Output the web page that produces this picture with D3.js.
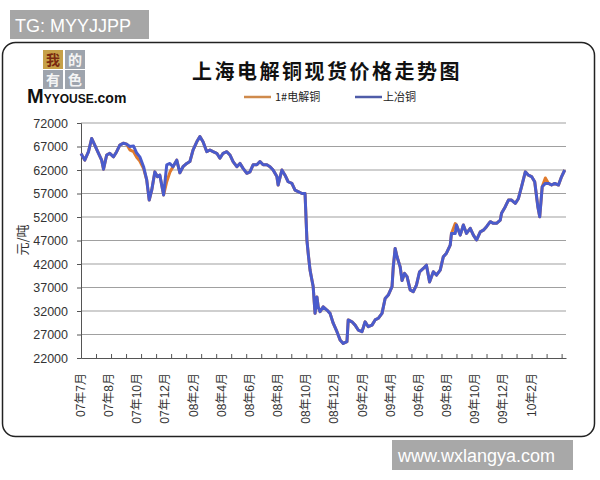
<!DOCTYPE html>
<html><head><meta charset="utf-8">
<script src="https://cdn.jsdelivr.net/npm/d3@7/dist/d3.min.js"></script>
<style>
html,body{margin:0;padding:0;background:#fff;}
svg{display:block;}
</style></head>
<body>
<svg id="chart" width="600" height="480"></svg>
<script>
// ---- data ----
const chartTitle = "上海电解铜现货价格走势图";
const seriesNames = ["1#电解铜", "上冶铜"];
const yTickValues = [22000, 27000, 32000, 37000, 42000, 47000, 52000, 57000, 62000, 67000, 72000];
const xTickLabels = ["07年7月","07年8月","07年10月","07年12月","08年2月","08年4月","08年6月","08年8月","08年10月","08年12月","09年2月","09年4月","09年6月","09年8月","09年10月","09年12月","10年2月"];
const totalDays = 775;   // trading-day index range of the category axis
const labelEvery = 45;   // trading days between category labels
const tickEvery = 24;    // trading days between tick marks

const tradingDay = [0,6,12,17,22,28,33,36,41,46,52,57,62,68,73,78,84,89,94,100,105,109,113,118,122,126,132,137,142,147,153,158,163,169,174,179,185,190,195,201,206,211,217,222,227,233,238,243,249,254,259,265,270,275,281,286,291,297,302,307,313,315,321,326,331,337,342,347,353,358,361,363,366,369,371,374,377,379,382,387,393,398,403,409,414,419,425,427,433,438,443,449,454,459,465,470,475,481,486,491,497,499,502,505,510,513,517,521,526,531,536,541,547,552,557,563,568,574,579,584,590,592,598,600,606,611,616,622,627,632,638,643,648,654,659,664,670,672,678,683,688,694,699,704,710,715,720,725,730,733,737,742,747,752,757,763,768,773];

const shangyeCopper = [65500,64100,65900,68700,67300,65550,64100,62150,65200,65550,64800,65900,67300,67700,67500,67000,67100,65600,64800,62700,59900,55600,57700,61600,60600,60900,56700,63100,63400,62700,64100,61400,62700,63400,63800,66250,68000,69100,68000,65900,66250,65900,65550,64500,65550,65900,65200,63800,62700,63400,62350,61300,61600,63100,63100,63800,63100,63100,62700,62000,60600,58800,62000,60900,59500,59150,57700,57400,57000,57000,47100,44300,40700,38600,37200,31500,35000,32900,31850,32900,32200,31500,29400,27600,25850,25100,25500,30100,29700,29000,27950,27600,29700,28650,29000,30100,30450,31500,34650,35400,37200,41400,45300,43550,41400,38500,40000,39300,36500,36100,37500,40350,41050,41750,38200,40350,39650,40700,43550,44300,46000,48500,48500,50300,48150,50300,48500,49600,48150,47100,48850,49200,49950,51000,50650,50650,51350,52800,54200,55600,55600,54900,55950,58450,61600,60900,60600,59500,54200,52050,58450,59150,59150,58800,59150,58800,60600,62000];

const cathodeCopper = [65500,64100,65900,68700,67300,65550,64100,62150,65200,65550,64800,65900,67300,67700,67500,66300,65900,64700,63900,62300,59900,55600,57700,61600,60600,60900,56700,59500,61500,62700,64100,61400,62700,63400,63800,66250,68000,69100,68000,65900,66250,65900,65550,64500,65550,65900,65200,63800,62700,63400,62350,61300,61600,63100,63100,63800,63100,63100,62700,62000,60600,58800,62000,60900,59500,59150,57700,57400,57000,57000,47100,44300,40700,38600,37200,31500,35000,32900,31850,32900,32200,31500,29400,27600,25850,25100,25500,30100,29700,29000,27950,27600,29700,28650,29000,30100,30450,31500,34650,35400,37200,41400,45300,43550,41400,38500,40000,39300,36500,36100,37500,40350,41050,41750,38200,40350,39650,40700,43550,44300,46000,48500,50600,50300,48150,50300,48500,49600,48150,47100,48850,49200,49950,51000,50650,50650,51350,52800,54200,55600,55600,54900,55950,58450,61600,60900,60600,59500,54200,52050,58450,60300,59150,58800,59150,58800,60600,62000];

// ---- drawing ----
const svg = d3.select("#chart");
const latin = "'Liberation Sans', Arial, 'Noto Sans CJK SC', sans-serif";
const cjk = "'Noto Sans CJK SC', 'Liberation Sans', sans-serif";

// top-left tag
svg.append("rect").attr("x",10).attr("y",10).attr("width",139).attr("height",29).attr("fill","#a6a6a6");
svg.append("text").attr("x",15).attr("y",32).attr("fill","#fff").attr("font-family",latin).attr("font-size",18).text("TG: MYYJJPP");

// frame
svg.append("rect").attr("x",2.5).attr("y",42.5).attr("width",592).attr("height",394).attr("rx",13)
  .attr("fill","none").attr("stroke","#222").attr("stroke-width",1.5);

// bottom-right watermark
svg.append("rect").attr("x",392).attr("y",440).attr("width",181).attr("height",30).attr("fill","#a8a8a8");
svg.append("text").attr("x",398).attr("y",462).attr("fill","#fff").attr("font-family",latin).attr("font-size",18).text("www.wxlangya.com");

// logo
const logoCells = [
  {ch:"我", x:43, y:50, bg:"#c6a048", fg:"#7a2a10"},
  {ch:"的", x:65, y:50, bg:"#9ea4ad", fg:"#f4f4f4"},
  {ch:"有", x:43, y:70, bg:"#9ea4ad", fg:"#f4f4f4"},
  {ch:"色", x:65, y:70, bg:"#9ea4ad", fg:"#f4f4f4"}
];
const logo = svg.append("g");
logo.selectAll("rect").data(logoCells).join("rect")
  .attr("x",d=>d.x).attr("y",d=>d.y).attr("width",20).attr("height",19).attr("fill",d=>d.bg);
logo.selectAll("text").data(logoCells).join("text")
  .attr("x",d=>d.x+10).attr("y",d=>d.y+15).attr("text-anchor","middle")
  .attr("fill",d=>d.fg).attr("font-family",cjk).attr("font-weight","bold").attr("font-size",14).text(d=>d.ch);
const brand = svg.append("text").attr("x",27).attr("y",103).attr("font-family",latin).attr("font-weight","bold").attr("fill","#111");
brand.append("tspan").attr("font-size",20).text("M");
brand.append("tspan").attr("font-size",12).text("YYOUSE");
brand.append("tspan").attr("font-size",14).text(".com");

// title
svg.append("text").attr("x",327).attr("y",79).attr("text-anchor","middle")
  .attr("font-family",cjk).attr("font-weight","bold").attr("font-size",20).attr("letter-spacing",2.5)
  .attr("fill","#111").text(chartTitle);

// plot area
const plotL = 81, plotR = 566, plotT = 123, plotB = 358;
const x = d3.scaleLinear().domain([0, totalDays]).range([plotL, plotR]);
const y = d3.scaleLinear().domain([22000, 72000]).range([plotB, plotT]);

const colors = ["#e07a2c", "#4a5bcc"];

// gridlines
svg.append("g").selectAll("line").data(yTickValues.filter(v=>v>22000)).join("line")
  .attr("x1",plotL).attr("x2",plotR).attr("y1",d=>y(d)).attr("y2",d=>y(d))
  .attr("stroke","#a0a0a0").attr("stroke-width",1.2);

// y axis
const yAxis = svg.append("g").attr("transform",`translate(${plotL},0)`)
  .call(d3.axisLeft(y).tickValues(yTickValues).tickFormat(d3.format("d")).tickSize(4).tickPadding(9));
yAxis.select(".domain").attr("stroke","#555");
yAxis.selectAll(".tick line").attr("stroke","#555");
yAxis.selectAll("text").attr("font-family",latin).attr("font-size",12.5).attr("fill","#333");

// x axis (category ticks inward)
const tickDays = d3.range(0, totalDays + 1, tickEvery);
const xAxis = svg.append("g").attr("transform",`translate(0,${plotB})`)
  .call(d3.axisBottom(x).tickValues(tickDays).tickSize(-4).tickSizeOuter(0).tickFormat(""));
xAxis.select(".domain").attr("stroke","#555");
xAxis.selectAll(".tick line").attr("stroke","#555");

// rotated category labels
svg.append("g").selectAll("text").data(xTickLabels).join("text")
  .attr("transform",(d,i)=>`translate(${x(i*labelEvery)+4},373) rotate(-90)`)
  .attr("text-anchor","end").attr("font-family",latin).attr("font-size",12).attr("fill","#333")
  .text(d=>d);

// y axis title
svg.append("text").attr("transform","translate(27,240) rotate(-90)").attr("text-anchor","middle")
  .attr("font-family",cjk).attr("font-size",13).attr("fill","#333").text("元/吨");

// lines
const allSeries = [cathodeCopper, shangyeCopper];
const line = d3.line().x((d,i)=>x(tradingDay[i])).y(d=>y(d)).curve(d3.curveLinear);
svg.append("g").selectAll("path").data(allSeries).join("path")
  .attr("d",d=>line(d)).attr("fill","none")
  .attr("stroke",(d,i)=>colors[i]).attr("stroke-width",3).attr("stroke-linejoin","round");

// legend
const legendItems = [{x:244, tx:275}, {x:355, tx:383}];
const lg = svg.append("g");
seriesNames.forEach((name,i)=>{
  lg.append("line").attr("x1",legendItems[i].x).attr("x2",legendItems[i].x+27).attr("y1",97).attr("y2",97)
    .attr("stroke",i===0?"#cf8a4c":"#4f5ca8").attr("stroke-width",2.5);
  lg.append("text").attr("x",legendItems[i].tx).attr("y",101).attr("font-family",cjk).attr("font-size",11)
    .attr("fill","#222").text(name);
});
</script>
</body></html>
